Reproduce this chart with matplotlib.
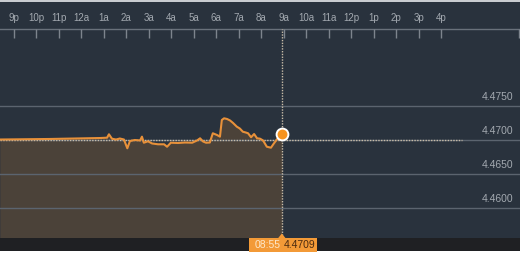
import matplotlib.pyplot as plt
from matplotlib.patches import Rectangle, Polygon

plt.rcParams['font.family'] = ['Liberation Sans', 'DejaVu Sans']

# minutes after 21:00 of the previous evening, and the quote
minutes = [-37, 97, 230, 249, 254, 262, 273, 283, 294, 303, 310, 323, 337, 342,
           347, 358, 369, 385, 401, 409, 419, 438, 457, 476, 489, 497, 505, 513,
           523, 531, 542, 550, 555, 561, 569, 577, 585, 595, 603, 611, 619, 625,
           633, 641, 649, 657, 665, 675, 686, 694, 702, 715]
values = [4.47007, 4.47015, 4.47029, 4.47034, 4.47084, 4.47019, 4.47007, 4.47022,
          4.47007, 4.46878, 4.46985, 4.47000, 4.46993, 4.47049, 4.46960, 4.46981,
          4.46949, 4.46937, 4.46937, 4.46901, 4.46960, 4.46956, 4.46963, 4.46960,
          4.46993, 4.47025, 4.46978, 4.46960, 4.46963, 4.47099, 4.47074, 4.47049,
          4.47294, 4.47319, 4.47309, 4.47287, 4.47250, 4.47196, 4.47169, 4.47122,
          4.47110, 4.47099, 4.47040, 4.47088, 4.47025, 4.47019, 4.46993, 4.46901,
          4.46887, 4.46951, 4.47010, 4.4709]
tick_labels = ['9p', '10p', '11p', '12a', '1a', '2a', '3a', '4a', '5a', '6a', '7a',
               '8a', '9a', '10a', '11a', '12p', '1p', '2p', '3p', '4p']
tick_minutes = [i * 60 for i in range(len(tick_labels))]
grid_levels = [4.4750, 4.4700, 4.4650, 4.4600]
prev_close = 4.46995
prev_close_end = 1195
last_time = '08:55'
last_value = 4.4709

W, H = 520, 254
PX_PER_UNIT = 34 / 0.005
MIN_PER_PX = 60 / 22.5


def py(y):
    # pixel row from the top -> axes fraction
    return 1 - y / H


bg = '#29323d'
fig = plt.figure(figsize=(W / 100, H / 100), dpi=100)
ax = fig.add_axes([0, 0, 1, 1])
ax.set_facecolor(bg)
for s in ax.spines.values():
    s.set_visible(False)
ax.set_xticks([])
ax.set_yticks([])
ax.set_xlim(-13.7 * MIN_PER_PX, (W - 13.7) * MIN_PER_PX)
ax.set_ylim(4.47 - (H - 140) / PX_PER_UNIT, 4.47 + 140 / PX_PER_UNIT)

xt = ax.get_xaxis_transform()

# area + line
ax.fill_between(minutes, values, ax.get_ylim()[0], color='#4b4239', lw=0, zorder=1)

for lv in grid_levels:
    ax.axhline(lv, color='#5b646f', lw=1, zorder=2)
    ax.text(513 / W, lv + 9 / PX_PER_UNIT, f'{lv:.4f}', transform=ax.get_yaxis_transform(),
            ha='right', va='center', fontsize=7.5, color='#a3a9b0', zorder=3)

ax.plot([minutes[0], prev_close_end], [prev_close, prev_close], ls=(0, (1, 1)),
        color='#c8bca8', lw=1, zorder=3)
ax.plot(minutes, values, color='#e8913a', lw=1.5, zorder=4)

# time axis on top
ax.plot([0, 1], [py(29), py(29)], transform=ax.transAxes, color='#69717b',
        lw=1, zorder=2)
ax.vlines(tick_minutes + [(W - 1.5) * MIN_PER_PX - 13.7 * MIN_PER_PX], py(38), py(29),
          transform=xt, color='#7d848d', lw=1, zorder=2)
for m, lab in zip(tick_minutes, tick_labels):
    ax.text(m, py(18), lab, transform=xt, ha='center', va='center',
            fontsize=7, color='#a3a9b0')
ax.add_patch(Rectangle((0, py(1.5)), 1, 1.5 / H, transform=ax.transAxes,
                       color='#c9ccd0', lw=0, zorder=2))

# cross-hair at last point
ax.vlines(minutes[-1], py(238), py(29), transform=xt, color='#c8bca8',
          lw=1, linestyles=(0, (1, 1)), zorder=3)
ax.plot(minutes[-1], values[-1], 'o', ms=8.5, mfc='#f7931e', mec='white',
        mew=1.4, zorder=6)

# bottom strip
ax.add_patch(Rectangle((0, py(251)), 1, (251 - 238) / H, transform=ax.transAxes,
                       color='#1f2023', lw=0, zorder=5))
ax.add_patch(Rectangle((0, 0), 1, py(251), transform=ax.transAxes,
                       color='white', lw=0, zorder=5))

# value tag
m0 = minutes[-1]
orange = '#f39a37'
ax.add_patch(Rectangle((m0 - 33 * MIN_PER_PX, py(252)), 68 * MIN_PER_PX, 14 / H,
                       transform=xt, color=orange, lw=0, zorder=7))
ax.add_patch(Polygon([(m0 - 4 * MIN_PER_PX, py(238.5)), (m0, py(233.5)),
                      (m0 + 4 * MIN_PER_PX, py(238.5))],
                     closed=True, transform=xt, color=orange, lw=0, zorder=7))
ax.text(m0 - 14.5 * MIN_PER_PX, py(245), last_time, transform=xt, ha='center',
        va='center', fontsize=7.5, color='#fde7c8', zorder=8)
ax.text(m0 + 17.5 * MIN_PER_PX, py(245), f'{last_value:.4f}', transform=xt,
        ha='center', va='center', fontsize=7.5, color='#4a2a10', zorder=8)

fig.savefig('out.png', dpi=100, facecolor=bg)
